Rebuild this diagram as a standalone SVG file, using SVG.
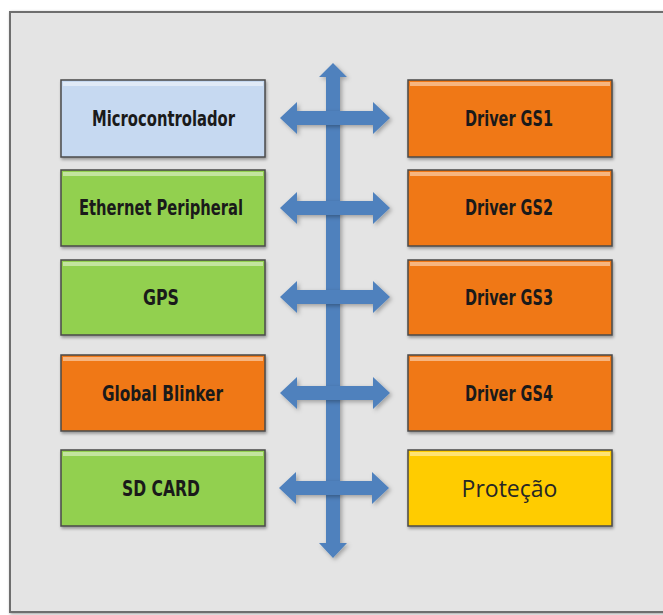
<svg xmlns="http://www.w3.org/2000/svg" width="663" height="615" viewBox="0 0 663 615">
<style>
.box{stroke:#4a4a4a;stroke-width:1.5;filter:url(#sh)}
.hl{fill:#ffffff;opacity:0.45}
.t{font-family:"DejaVu Sans Condensed","Liberation Sans Narrow","Liberation Sans",sans-serif;font-weight:bold;font-size:21px;fill:#1a1a1a;text-anchor:middle}
.t2{font-family:"Open Sans","Liberation Sans",sans-serif;font-size:23px;fill:#262626;text-anchor:middle}
.blue{fill:#c6d9f1}.green{fill:#92d050}.orange{fill:#f07812}.yellow{fill:#ffcc00}
.arr{fill:#4f81bd;filter:url(#sh2)}
</style>
<defs>
<filter id="sh" x="-10%" y="-10%" width="120%" height="130%"><feDropShadow dx="1" dy="2" stdDeviation="1.5" flood-color="#000" flood-opacity="0.35"/></filter>
<filter id="sh2" x="-20%" y="-20%" width="140%" height="140%"><feDropShadow dx="2" dy="2" stdDeviation="2" flood-color="#000" flood-opacity="0.3"/></filter>
<filter id="fs" x="-5%" y="-5%" width="110%" height="110%"><feDropShadow dx="1" dy="1" stdDeviation="1.5" flood-color="#000" flood-opacity="0.4"/></filter>
</defs>
<rect x="0" y="0" width="663" height="615" fill="#ffffff"/>
<rect id="frame" x="10" y="12" width="660" height="600" fill="#e4e4e4" stroke="#6e6e6e" stroke-width="2" filter="url(#fs)"/>
<g id="connectors">
<path class="arr" d="M333,63 L347,77 L340,77 L340,543 L347,543 L333,558 L319,543 L326,543 L326,77 L319,77 Z"/>
<path class="arr" d="M280,118 L297,102 L297,111 L373,111 L373,102 L390,118 L373,134 L373,125 L297,125 L297,134 Z"/>
<path class="arr" d="M280,208 L297,192 L297,201 L373,201 L373,192 L390,208 L373,224 L373,215 L297,215 L297,224 Z"/>
<path class="arr" d="M280,297 L297,281 L297,290 L373,290 L373,281 L390,297 L373,313 L373,304 L297,304 L297,313 Z"/>
<path class="arr" d="M280,393 L297,377 L297,386 L373,386 L373,377 L390,393 L373,409 L373,400 L297,400 L297,409 Z"/>
<path class="arr" d="M279,488 L296,472 L296,481 L372,481 L372,472 L389,488 L372,504 L372,495 L296,495 L296,504 Z"/>
</g>
<g id="microcontrolador"><rect class="box blue" x="61" y="80" width="204" height="77"/><rect class="hl" x="63" y="82" width="200" height="4"/><text class="t" x="163.5" y="126" textLength="143" lengthAdjust="spacingAndGlyphs">Microcontrolador</text></g>
<g id="ethernet"><rect class="box green" x="61" y="170" width="204" height="76"/><rect class="hl" x="63" y="172" width="200" height="4"/><text class="t" x="161" y="215" textLength="164" lengthAdjust="spacingAndGlyphs">Ethernet Peripheral</text></g>
<g id="gps"><rect class="box green" x="61" y="260" width="204" height="75"/><rect class="hl" x="63" y="262" width="200" height="4"/><text class="t" x="161" y="305" textLength="36" lengthAdjust="spacingAndGlyphs">GPS</text></g>
<g id="blinker"><rect class="box orange" x="61" y="355" width="204" height="76"/><rect class="hl" x="63" y="357" width="200" height="4"/><text class="t" x="162.5" y="401" textLength="121" lengthAdjust="spacingAndGlyphs">Global Blinker</text></g>
<g id="sdcard"><rect class="box green" x="61" y="450" width="204" height="76"/><rect class="hl" x="63" y="452" width="200" height="4"/><text class="t" x="161" y="496" textLength="78" lengthAdjust="spacingAndGlyphs">SD CARD</text></g>
<g id="gs1"><rect class="box orange" x="408" y="80" width="204" height="77"/><rect class="hl" x="410" y="82" width="200" height="4"/><text class="t" x="509" y="126" textLength="88" lengthAdjust="spacingAndGlyphs">Driver GS1</text></g>
<g id="gs2"><rect class="box orange" x="408" y="170" width="204" height="76"/><rect class="hl" x="410" y="172" width="200" height="4"/><text class="t" x="509" y="215" textLength="88" lengthAdjust="spacingAndGlyphs">Driver GS2</text></g>
<g id="gs3"><rect class="box orange" x="408" y="260" width="204" height="75"/><rect class="hl" x="410" y="262" width="200" height="4"/><text class="t" x="509" y="305" textLength="88" lengthAdjust="spacingAndGlyphs">Driver GS3</text></g>
<g id="gs4"><rect class="box orange" x="408" y="355" width="204" height="76"/><rect class="hl" x="410" y="357" width="200" height="4"/><text class="t" x="509" y="401" textLength="88" lengthAdjust="spacingAndGlyphs">Driver GS4</text></g>
<g id="protecao"><rect class="box yellow" x="408" y="450" width="204" height="76"/><rect class="hl" x="410" y="452" width="200" height="4"/><text class="t2" x="509.5" y="497">Proteção</text></g>
</svg>
